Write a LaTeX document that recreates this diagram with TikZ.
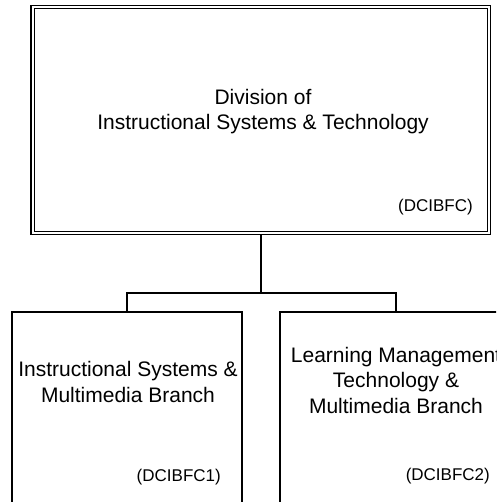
\documentclass[tikz,border=0pt]{standalone}
\usepackage{fontspec}
\setmainfont{Liberation Sans}
\begin{document}
\begin{tikzpicture}[x=1pt,y=-1pt,
  orgbox/.style={draw=black,line width=1.4pt,inner sep=0pt,outer sep=0.7pt,fill=white},
  topbox/.style={draw=black,line width=1.4pt,double=white,double distance=2.1pt,inner sep=0pt,outer sep=2.4pt,fill=white},
  wire/.style={draw=black,line width=1.4pt},
  bigtxt/.style={font=\fontsize{21}{25.5}\selectfont,align=center,anchor=base,inner sep=0pt},
  codetxt/.style={font=\fontsize{17}{20}\selectfont,anchor=base east,inner sep=0pt}]
\useasboundingbox (0,0) rectangle (496,502);
\clip (0,0) rectangle (496,502);
\coordinate (j) at (260.8,293);
\node[topbox,minimum width=456.3pt,minimum height=226pt] (top) at (260.8,120) {};
\node[orgbox,minimum width=230pt,minimum height=228pt] (left) at (127,426) {};
\node[orgbox,minimum width=232pt,minimum height=228pt] (right) at (396,426) {};
\draw[wire] (top.south) -- (j);
\draw[wire] (left.north) |- (j) -| (right.north);
\node[bigtxt] (toptxt) at (263,130) {Division of\\Instructional Systems \& Technology};
\node[codetxt] (topcode) at (473,212) {(DCIBFC)};
\node[bigtxt] (lefttxt) at (128,402) {Instructional Systems \&\\Multimedia Branch};
\node[codetxt] (leftcode) at (221,481) {(DCIBFC1)};
\node[bigtxt] (righttxt) at (396,413) {Learning Management\\Technology \&\\Multimedia Branch};
\node[codetxt] (rightcode) at (490,480) {(DCIBFC2)};
\end{tikzpicture}
\end{document}
